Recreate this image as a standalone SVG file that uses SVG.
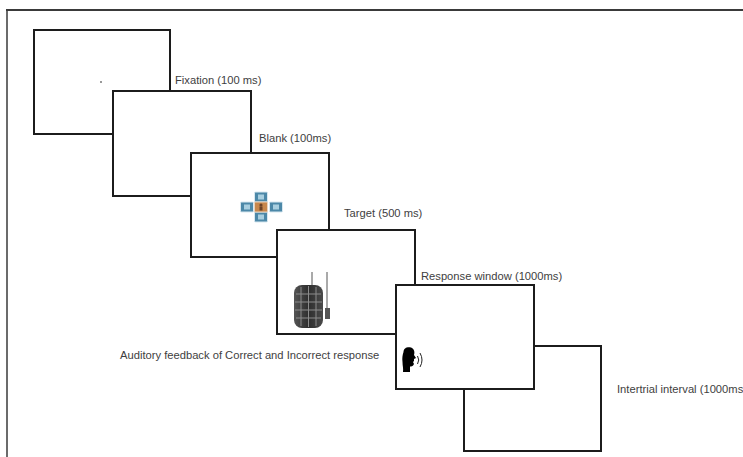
<svg xmlns="http://www.w3.org/2000/svg" width="743" height="457" viewBox="0 0 743 457">
  <style>
    .frame { fill: none; stroke: #3a3a3a; }
    .screen { fill: #ffffff; stroke: #1c1c1c; stroke-width: 2; }
    .label { font-family: "Liberation Sans", Arial, sans-serif; font-size: 11.2px; fill: #3e3e3e; }
    .tile { fill: #4c88a8; stroke: #d8e8f0; stroke-width: 1; }
    .tile-in { fill: #a9cfe0; }
    .key { stroke: #8c8c8c; stroke-width: 1; }
  </style>
  <defs>
    <g id="tile">
      <rect class="tile" x="-6.5" y="-5" width="13" height="10" rx="1"/>
      <rect class="tile-in" x="-3" y="-2.5" width="6" height="5"/>
    </g>
    <linearGradient id="padShade" x1="0" y1="0" x2="1" y2="0">
      <stop offset="0" stop-color="#555"/>
      <stop offset="0.5" stop-color="#2e2e2e"/>
      <stop offset="1" stop-color="#4a4a4a"/>
    </linearGradient>
  </defs>

  <rect x="0" y="0" width="743" height="457" fill="#ffffff"/>

  <!-- outer frame -->
  <g id="frame">
    <line class="frame" x1="6" y1="10" x2="743" y2="10" stroke-width="2"/>
    <line class="frame" x1="7" y1="10" x2="7" y2="457" stroke-width="1.5"/>
  </g>

  <!-- screen 1: fixation -->
  <g id="fixation">
    <rect class="screen" x="34" y="30" width="136" height="104"/>
    <circle cx="101" cy="82" r="1" fill="#777"/>
    <text class="label" x="175" y="84">Fixation (100 ms)</text>
  </g>

  <!-- screen 2: blank -->
  <g id="blank">
    <rect class="screen" x="113" y="91" width="138" height="105"/>
    <text class="label" x="259" y="142">Blank (100ms)</text>
  </g>

  <!-- screen 3: target -->
  <g id="target">
    <rect class="screen" x="191" y="153" width="138" height="104"/>
    <use href="#tile" x="261" y="197"/>
    <use href="#tile" x="247" y="207"/>
    <use href="#tile" x="276" y="207"/>
    <use href="#tile" x="261" y="217"/>
    <rect x="254.5" y="202" width="13" height="10" rx="1" fill="#c7874c" stroke="#e8d2bc" stroke-width="1"/>
    <circle cx="261" cy="205" r="1.6" fill="#6b4226"/>
    <rect x="259.5" y="206.5" width="3" height="4" fill="#6b4226"/>
    <text class="label" x="344" y="217">Target (500 ms)</text>
  </g>

  <!-- screen 4: keypad -->
  <g id="keypad">
    <rect class="screen" x="277" y="230" width="138" height="104"/>
    <line x1="312" y1="272" x2="312" y2="286" stroke="#555" stroke-width="1"/>
    <line x1="327" y1="272" x2="327" y2="309" stroke="#555" stroke-width="1"/>
    <rect x="325" y="308" width="5" height="11" fill="#555"/>
    <rect x="294" y="285" width="29" height="43" rx="8" fill="url(#padShade)"/>
    <g class="key">
      <line x1="301" y1="287" x2="301" y2="326"/>
      <line x1="308.5" y1="286" x2="308.5" y2="327"/>
      <line x1="316" y1="287" x2="316" y2="326"/>
      <line x1="296" y1="294" x2="321" y2="294"/>
      <line x1="295" y1="302" x2="322" y2="302"/>
      <line x1="295" y1="310" x2="322" y2="310"/>
      <line x1="296" y1="318" x2="321" y2="318"/>
    </g>
    <text class="label" x="421" y="280">Response window (1000ms)</text>
  </g>

  <!-- screen 6: inter-trial interval (sits behind screen 5) -->
  <g id="iti">
    <rect class="screen" x="464" y="346" width="137" height="105"/>
    <text class="label" x="617" y="393">Intertrial interval (1000ms)</text>
  </g>

  <!-- screen 5: auditory feedback -->
  <g id="feedback">
    <rect class="screen" x="396" y="285" width="138" height="104"/>
    <path d="M403.5,352 C403.5,347.5 408,346.5 411,347.5 C414,348.5 415,352 414,355 L416,358 L414,359 L414,361 L413,362 L414,364 C413,366.5 411,366.5 410,366.5 L410,372 L403,372 C403.5,368 402.5,366 402.5,362 C402,358 402.5,355 403.5,352 Z" fill="#000"/>
    <path d="M417.5,356 Q420,360 417.5,364" fill="none" stroke="#222" stroke-width="1"/>
    <path d="M420,353 Q424,360 420,367" fill="none" stroke="#222" stroke-width="1"/>
    <text class="label" x="120" y="359">Auditory feedback of Correct and Incorrect response</text>
  </g>
</svg>
